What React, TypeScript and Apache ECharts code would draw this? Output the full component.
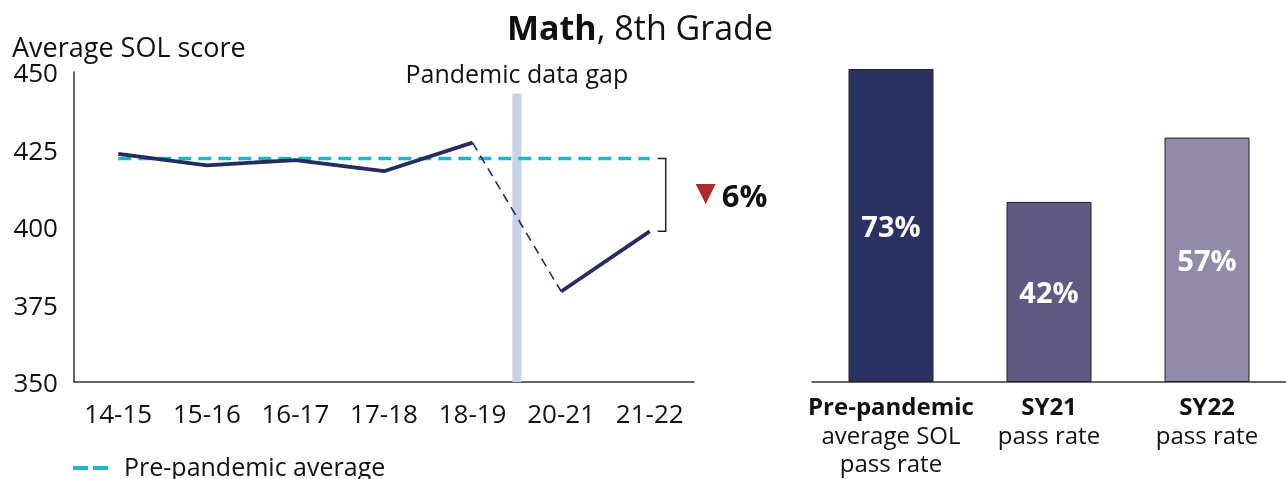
import React, { useEffect, useRef } from "react";
import * as echarts from "echarts";

const categories = ["14-15", "15-16", "16-17", "17-18", "18-19", "20-21", "21-22"];
const scores = [423.6, 419.9, 421.6, 418.0, 427.2, 379.2, 398.6];
const prePandemicAverage = 422.1;
const gapPosition = 4.5; // between 18-19 and 20-21
const gapRange = [350, 443];
const dropLabel = "6%";
const legendLabel = "Pre-pandemic average";

const barHeads = ["Pre-pandemic", "SY21", "SY22"];
const barSubs = ["average SOL\npass rate", "pass rate", "pass rate"];
const passRates = [73, 42, 57];
const barColors = ["#2b3160", "#5d5b82", "#918ba9"];

const FONT = "'Open Sans', 'Noto Sans', sans-serif";
const NAVY = "#262c5c";
const TEAL = "#22b4c8";

export default function App() {
  const ref = useRef<HTMLDivElement>(null);

  useEffect(() => {
    if (!ref.current) return;
    const chart = echarts.init(ref.current, null, { renderer: "svg" });

    const preIdx = 4;
    const solidPre = scores.map((v, i) => (i <= preIdx ? v : null));
    const bridge = scores.map((v, i) => (i === preIdx || i === preIdx + 1 ? v : null));
    const solidPost = scores.map((v, i) => (i > preIdx ? v : null));

    chart.setOption({
      animation: false,
      textStyle: { fontFamily: FONT },
      grid: [
        { left: 74, right: 592, top: 72, bottom: 97, outerBoundsMode: "none", containLabel: false },
        { left: 812, right: 0, top: 39, bottom: 97, outerBoundsMode: "none", containLabel: false },
      ],
      xAxis: [
        {
          type: "category",
          gridIndex: 0,
          data: categories,
          boundaryGap: true,
          axisLine: { show: true, onZero: false, lineStyle: { color: "#333", width: 1.5 } },
          axisTick: { show: false },
          axisLabel: { fontFamily: FONT, fontSize: 26, color: "#111", margin: 18 },
        },
        {
          type: "value",
          gridIndex: 0,
          min: -0.5,
          max: 6.5,
          show: false,
        },
        {
          type: "category",
          gridIndex: 1,
          data: barHeads,
          axisLine: { show: true, onZero: false, lineStyle: { color: "#333", width: 1.5 } },
          axisTick: { show: false },
          axisLabel: {
            margin: 8,
            interval: 0,
            formatter: (v: string, i: number) => `{h|${v}}\n{s|${barSubs[i]}}`,
            rich: {
              h: { fontFamily: FONT, fontSize: 24, fontWeight: "bold", color: "#111", lineHeight: 30 },
              s: { fontFamily: FONT, fontSize: 24, color: "#111", lineHeight: 28 },
            },
          },
        },
      ],
      yAxis: [
        {
          type: "value",
          gridIndex: 0,
          min: 350,
          max: 450,
          interval: 25,
          axisLine: { show: true, onZero: false, lineStyle: { color: "#333", width: 1.5 } },
          axisTick: { show: false },
          splitLine: { show: false },
          axisLabel: { fontFamily: FONT, fontSize: 26, color: "#111", margin: 16 },
        },
        {
          type: "value",
          gridIndex: 1,
          min: 0,
          max: 80,
          show: false,
          splitLine: { show: false },
        },
      ],
      series: [
        {
          name: "gap",
          type: "line",
          xAxisIndex: 1,
          yAxisIndex: 0,
          data: [
            [gapPosition, gapRange[0]],
            [gapPosition, gapRange[1]],
          ],
          symbol: "none",
          lineStyle: { color: "#c6d0e7", width: 9, cap: "butt" },
          z: 1,
          silent: true,
        },
        {
          name: legendLabel,
          type: "line",
          xAxisIndex: 0,
          yAxisIndex: 0,
          data: categories.map(() => prePandemicAverage),
          symbol: "none",
          itemStyle: { color: TEAL },
          lineStyle: { color: TEAL, width: 3.5, type: [13, 7] },
          z: 2,
        },
        {
          name: "bridge",
          type: "line",
          xAxisIndex: 0,
          yAxisIndex: 0,
          data: bridge,
          symbol: "none",
          lineStyle: { color: NAVY, width: 1.6, type: [9, 6] },
          z: 3,
        },
        {
          name: "pre",
          type: "line",
          xAxisIndex: 0,
          yAxisIndex: 0,
          data: solidPre,
          symbol: "none",
          lineStyle: { color: NAVY, width: 3.8 },
          z: 4,
        },
        {
          name: "post",
          type: "line",
          xAxisIndex: 0,
          yAxisIndex: 0,
          data: solidPost,
          symbol: "none",
          lineStyle: { color: NAVY, width: 3.8 },
          z: 4,
        },
        {
          name: "pass",
          type: "bar",
          xAxisIndex: 2,
          yAxisIndex: 1,
          barWidth: 85,
          data: passRates.map((v, i) => ({
            value: v,
            itemStyle: { color: barColors[i], borderColor: "#222", borderWidth: 1 },
          })),
          label: {
            show: true,
            position: "inside",
            formatter: "{c}%",
            fontFamily: FONT,
            fontSize: 29,
            fontWeight: "bold",
            color: "#fff",
          },
        },
      ],
    });

    const last = categories.length - 1;
    const pAvg = chart.convertToPixel({ xAxisIndex: 0, yAxisIndex: 0 }, [last, prePandemicAverage]) as number[];
    const pLast = chart.convertToPixel({ xAxisIndex: 0, yAxisIndex: 0 }, [last, scores[last]]) as number[];
    const pGap = chart.convertToPixel({ xAxisIndex: 1, yAxisIndex: 0 }, [gapPosition, 450]) as number[];
    const pTop = chart.convertToPixel({ xAxisIndex: 0, yAxisIndex: 0 }, [0, 450]) as number[];

    const bx = pAvg[0] + 16;
    const midY = (pAvg[1] + pLast[1]) / 2;

    chart.setOption({
      graphic: [
        {
          type: "text",
          style: {
            text: "{b|Math}{n|, 8th Grade}",
            x: 640,
            y: 27,
            align: "center",
            verticalAlign: "middle",
            rich: {
              b: { fontFamily: FONT, fontSize: 34, fontWeight: "bold", fill: "#111" },
              n: { fontFamily: FONT, fontSize: 34, fill: "#111" },
            },
          },
        },
        {
          type: "text",
          style: {
            text: "Average SOL score",
            x: 12,
            y: 46,
            align: "left",
            verticalAlign: "middle",
            fontFamily: FONT,
            fontSize: 27,
            lineHeight: 24,
            fill: "#111",
          },
        },
        {
          type: "text",
          style: {
            text: "Pandemic data gap",
            x: pGap[0],
            y: pTop[1] + 1,
            align: "center",
            verticalAlign: "middle",
            fontFamily: FONT,
            fontSize: 25,
            fill: "#111",
          },
        },
        {
          type: "polyline",
          shape: {
            points: [
              [bx - 8, pAvg[1]],
              [bx, pAvg[1]],
              [bx, pLast[1]],
              [bx - 8, pLast[1]],
            ],
          },
          style: { stroke: "#222", lineWidth: 1.5, fill: "none" },
        },
        {
          type: "polygon",
          shape: {
            points: [
              [bx + 30, midY - 11],
              [bx + 50, midY - 11],
              [bx + 40, midY + 9],
            ],
          },
          style: { fill: "#b02a2a" },
        },
        {
          type: "text",
          style: {
            text: dropLabel,
            x: bx + 56,
            y: midY,
            align: "left",
            verticalAlign: "middle",
            fontFamily: FONT,
            fontSize: 31,
            fontWeight: "bold",
            fill: "#111",
          },
        },
        // legend
        {
          type: "line",
          shape: { x1: 73, y1: 468, x2: 108, y2: 468 },
          style: { stroke: TEAL, lineWidth: 4, lineDash: [15, 5] },
        },
        {
          type: "text",
          style: {
            text: legendLabel,
            x: 124,
            y: 466,
            align: "left",
            verticalAlign: "middle",
            fontFamily: FONT,
            fontSize: 25,
            lineHeight: 24,
            fill: "#111",
          },
        },
      ],
    });

    return () => chart.dispose();
  }, []);

  return (
    <div
      ref={ref}
      style={{ position: "fixed", left: 0, top: 0, width: 1286, height: 479 }}
    />
  );
}
